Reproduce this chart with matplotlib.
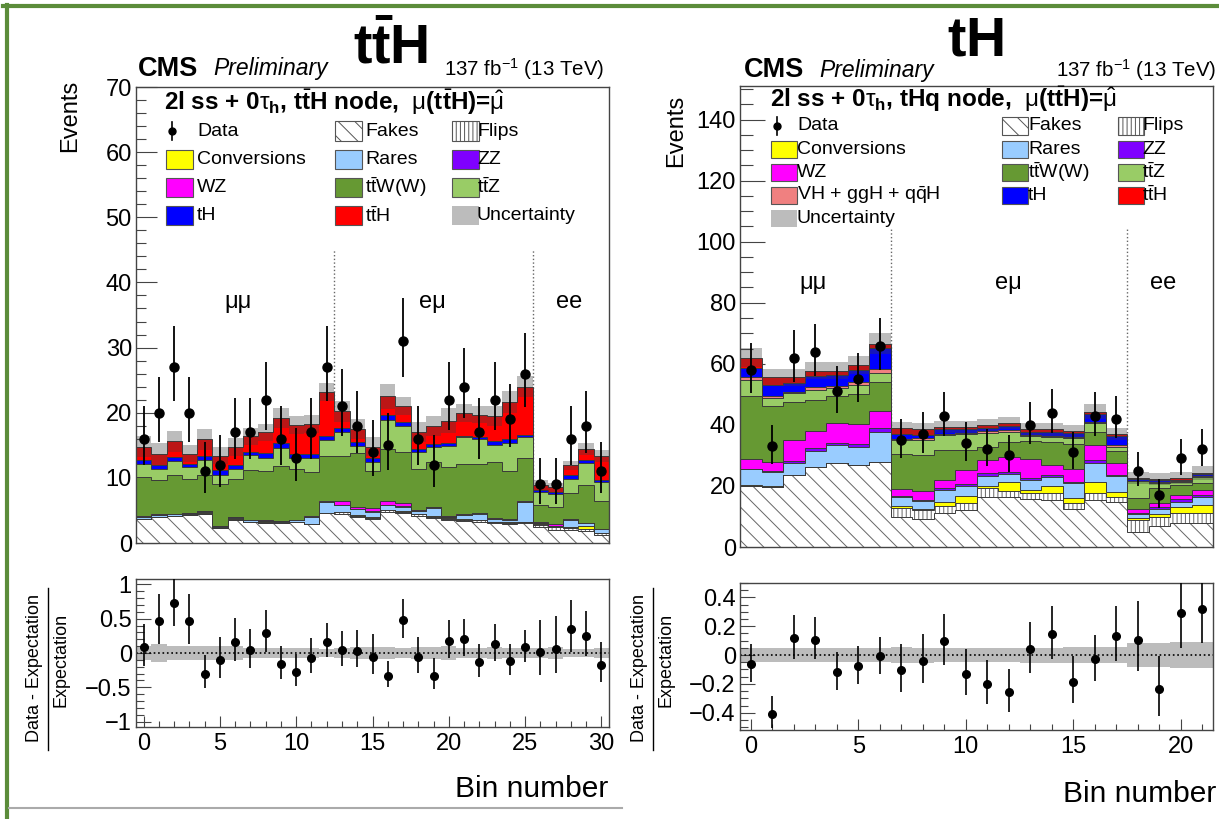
import numpy as np
import matplotlib
matplotlib.use('Agg')
import matplotlib.pyplot as plt
import matplotlib.ticker as ticker
from matplotlib.patches import Rectangle
from matplotlib.lines import Line2D

plt.rcParams['font.family'] = ['Liberation Sans', 'DejaVu Sans']
plt.rcParams['mathtext.fontset'] = 'custom'
plt.rcParams['mathtext.rm'] = 'Liberation Sans'
plt.rcParams['mathtext.it'] = 'Liberation Sans:italic'
plt.rcParams['mathtext.bf'] = 'Liberation Sans:bold'
plt.rcParams['hatch.linewidth'] = 0.7

W, H = 1219, 819

# ---------------- ttH node (left), bins 0-30 ----------------
data_L = [16, 20, 27, 20, 11, 12, 17, 17, 22, 16, 13, 17, 27,
          21, 18, 14, 15, 31, 16, 12, 22, 24, 17, 22, 19, 26,
          9, 9, 16, 18, 11]
fakes_L = [3.7, 4.0, 4.1, 4.3, 4.5, 2.3, 3.6, 3.2, 3.1, 3.0, 3.2, 2.9, 4.6,
           4.5, 4.0, 3.7, 4.8, 4.6, 4.2, 3.8, 3.5, 3.4, 3.3, 3.0, 2.9, 3.0,
           2.5, 2.0, 2.0, 1.8, 1.2]
flips_L = [0]*13 + [0.2]*13 + [0.3, 0.4, 0.3, 0.4, 0.3]
conv_L = [0.05]*13 + [0.1]*13 + [0.1, 0.05, 0.1, 0.4, 0.1]
rares_L = [0.25, 0.25, 0.25, 0.15, 0.25, 0.15, 0.25, 0.25, 0.25, 0.25, 0.25, 1.05, 1.65,
           1.0, 0.9, 0.8, 0.7, 0.7, 0.4, 1.3, 0.2, 0.6, 0.9, 0.4, 0.4, 3.0,
           0.1, 0.15, 1.2, 0.4, 0.5]
zz_L = [0.05]*31
wz_L = [0.05]*12 + [0.1] + [0.55, 0.35, 0.45, 0.55, 0.55, 0.05, 0.05, 0.05, 0.15, 0.05, 0.05, 0.05, 0.05] \
       + [0.25, 0.25, 0.05, 0.05, 0.05]
ttw_L = [6.0, 5.3, 5.9, 5.2, 5.5, 6.4, 5.8, 7.6, 7.5, 8.4, 7.7, 6.8, 6.95,
         7.0, 8.2, 5.7, 8.1, 7.7, 6.4, 7.0, 7.5, 7.7, 7.5, 8.6, 7.4, 6.7,
         2.6, 2.65, 4.0, 5.8, 4.3]
ttz_L = [2.0, 1.7, 2.2, 1.8, 2.3, 1.5, 1.5, 2.3, 2.1, 2.8, 1.7, 2.1, 2.4,
         3.6, 1.1, 1.4, 4.4, 4.1, 2.6, 2.3, 3.3, 4.0, 3.8, 2.7, 4.2, 3.1,
         2.0, 2.0, 2.2, 3.4, 2.8]
th_L = [0.6, 0.6, 0.6, 0.6, 0.7, 0.7, 0.6, 0.4, 0.7, 0.8, 0.7, 0.7, 0.6,
        0.6, 0.6, 0.6, 0.7, 0.5, 0.4, 0.4, 0.5, 0.3, 0.3, 0.5, 0.6, 0.4,
        0.3, 0.3, 0.5, 0.4, 0.3]
tth_L = [2.1, 1.7, 2.4, 1.5, 2.5, 2.2, 2.8, 2.5, 3.2, 3.8, 4.4, 4.6, 6.8,
         2.6, 2.0, 1.8, 2.9, 2.5, 2.6, 2.8, 3.4, 3.5, 3.5, 3.9, 5.7, 7.4,
         0.7, 0.7, 1.5, 1.7, 3.7]
unc_L = [1.6, 1.7, 1.6, 1.3, 1.6, 1.3, 1.4, 1.3, 1.3, 1.5, 1.4, 1.4, 1.4,
         1.6, 1.5, 1.4, 1.9, 1.4, 1.5, 1.5, 1.9, 1.4, 1.3, 1.6, 1.7, 1.6,
         0.7, 0.7, 0.7, 0.9, 0.9]

# ---------------- tHq node (right), bins 0-21 ----------------
data_R = [58, 33, 62, 64, 51, 55, 66, 35, 37, 43, 34, 32, 30, 40, 44, 31, 43, 42, 25, 17, 29, 32]
fakes_R = [20.1, 19.8, 23.6, 26.1, 27.4, 26.9, 27.8, 9.7, 9.2, 11.0, 12.2, 16.5, 16.3, 15.6, 15.4,
           12.3, 15.4, 14.9, 5.0, 6.9, 8.0, 8.0]
flips_R = [0]*7 + [3.0, 2.8, 2.4, 2.2, 2.7, 2.2, 2.2, 2.4, 2.0, 2.2, 1.6, 4.0, 2.8, 3.0, 3.0]
conv_R = [0.1]*7 + [0.7, 0.6, 1.5, 2.4, 0.9, 2.9, 0.9, 2.3, 1.7, 3.8, 1.6, 0.6, 1.1, 2.2, 2.8]
rares_R = [5.3, 4.8, 3.7, 5.1, 5.9, 5.9, 9.9, 3.1, 2.6, 3.8, 3.3, 3.2, 2.5, 3.3, 2.7, 4.9, 6.0, 5.0,
           1.3, 1.5, 1.7, 2.5]
zz_R = [0.2, 0.2, 0.8, 1.0, 0.8, 0.7, 1.1, 0.3, 0.3, 0.5, 0.5, 0.9, 0.7, 0.7, 0.8, 0.5, 1.1, 0.5,
        0.3, 0.7, 0.7, 0.7]
wz_R = [3.0, 3.1, 6.7, 5.7, 6.3, 6.7, 5.7, 2.2, 2.8, 2.8, 4.6, 4.3, 5.0, 6.0, 3.3, 4.1, 4.9, 3.8,
        1.1, 1.5, 1.4, 1.7]
ttw_R = [20.6, 18.2, 12.7, 10.2, 8.8, 9.8, 9.6, 11.5, 11.8, 9.8, 6.6, 4.4, 4.9, 6.1, 7.6, 8.4, 4.4,
         3.9, 3.7, 4.8, 3.3, 2.3]
ttz_R = [5.5, 2.5, 2.8, 3.3, 2.7, 3.0, 2.7, 4.5, 5.1, 4.9, 5.2, 4.6, 3.3, 1.5, 1.5, 1.7, 2.7, 1.6,
         5.5, 1.7, 1.0, 1.8]
vh_R = [0.8, 0.8, 0.5, 0.8, 0.8, 0.8, 1.5, 0.5, 0.4, 0.4, 0.4, 0.4, 0.4, 0.4, 0.4, 0.3, 0.5, 0.4,
        0.2, 0.3, 0.2, 0.3]
th_R = [3.0, 3.6, 2.8, 3.8, 3.6, 4.1, 6.7, 1.5, 1.0, 1.6, 1.1, 1.1, 1.3, 1.1, 1.3, 1.3, 2.5, 2.9,
        0.5, 0.5, 0.5, 0.7]
tth_R = [3.4, 2.5, 1.9, 1.7, 1.4, 1.7, 1.5, 2.0, 1.9, 0.6, 0.7, 1.0, 1.0, 0.7, 0.8, 0.8, 0.8, 0.8,
         0.4, 0.5, 0.5, 0.5]
unc_R = [3.1, 2.8, 2.8, 2.9, 2.9, 3.0, 3.4, 2.1, 2.0, 2.0, 2.0, 2.0, 2.0, 2.0, 2.0, 2.1, 2.4, 2.1,
         1.9, 1.9, 2.0, 2.2]

FACE = {'fakes': 'white', 'flips': 'white', 'conv': '#ffff00', 'rares': '#99ccff',
        'zz': '#7f00ff', 'wz': '#ff00ff', 'ttw': '#669933', 'ttz': '#99cc66',
        'vh': '#f08080', 'th': '#0000ff', 'tth': '#ff0000'}
HATCH = {'fakes': r'\\', 'flips': '||||'}
UNC_GREY = '#bcbcbc'


def fx(x):
    return x / W


def fy(y):
    return 1 - y / H


def poisson_err(n):
    n = np.asarray(n, float)
    up = n + np.sqrt(n + 0.75) + 1
    lo = n * (1 - 1 / (9 * n) - 1 / (3 * np.sqrt(n))) ** 3
    return n - lo, up - n


def style_axis(ax, ylen, xlen):
    for s in ax.spines.values():
        s.set_color('#444444')
        s.set_linewidth(1.0)
    ax.tick_params(which='both', direction='in', top=False, right=False,
                   color='#444444', width=0.8, labelsize=17)
    ax.tick_params(axis='y', which='major', length=ylen, pad=3)
    ax.tick_params(axis='y', which='minor', length=ylen * 0.5)
    ax.tick_params(axis='x', which='major', length=xlen, pad=4)
    ax.tick_params(axis='x', which='minor', length=xlen * 0.5)


def minus_fmt(v, pos):
    return ('%g' % v).replace('-', '\u2212')


def draw_panel(ax, rax, comps, data, unc):
    n = len(data)
    edges = np.arange(n + 1) - 0.5
    x = np.arange(n)
    bottom = np.zeros(n)
    for name, vals in comps:
        top = bottom + np.asarray(vals)
        ax.stairs(top, edges, baseline=bottom, fill=True, facecolor=FACE[name],
                  edgecolor='#666666' if name in HATCH else 'none',
                  hatch=HATCH.get(name), linewidth=0, zorder=2)
        ax.stairs(top, edges, baseline=None, color='#3a3a3a', linewidth=0.7, zorder=2.1)
        bottom = top
    total = bottom
    u = np.asarray(unc)
    ax.stairs(total + u, edges, baseline=total - u, fill=True, color=(0.25, 0.25, 0.25),
              alpha=0.35, linewidth=0, zorder=3)
    lo, hi = poisson_err(data)
    ax.errorbar(x, data, yerr=[lo, hi], fmt='o', color='k', ms=6.5, elinewidth=1.3,
                capsize=0, zorder=5)
    # ratio
    rel = u / total
    rax.stairs(rel, edges, baseline=-rel, fill=True, color=UNC_GREY, linewidth=0, zorder=1)
    rax.axhline(0, color='k', ls=':', lw=1.2, zorder=2)
    ratio = np.asarray(data) / total - 1
    rax.errorbar(x, ratio, yerr=[lo / total, hi / total], fmt='o', color='k', ms=5.5,
                 elinewidth=1.2, capsize=0, zorder=5)
    for a in (ax, rax):
        a.set_xlim(-0.5, n - 0.5)
        a.xaxis.set_major_locator(ticker.MultipleLocator(5))
        a.xaxis.set_minor_locator(ticker.MultipleLocator(1))
    ax.tick_params(labelbottom=False)
    rax.yaxis.set_major_formatter(ticker.FuncFormatter(minus_fmt))


def legend_entry(fig, kind, x, y, label, bw, bh, tx, fs=14):
    if kind == 'data':
        fig.add_artist(Line2D([fx(x + 6)] * 2, [fy(y - 9), fy(y + 9)], color='k', lw=1.2))
        fig.add_artist(Line2D([fx(x + 6)], [fy(y)], marker='o', ms=5, color='k'))
    elif kind == 'unc':
        fig.add_artist(Rectangle((fx(x), fy(y + bh / 2)), bw / W, bh / H,
                                 transform=fig.transFigure, facecolor=UNC_GREY, edgecolor='none'))
    else:
        fig.add_artist(Rectangle((fx(x), fy(y + bh / 2)), bw / W, bh / H,
                                 transform=fig.transFigure, facecolor=FACE[kind],
                                 edgecolor='#555555', hatch=HATCH.get(kind), lw=0.8))
    fig.text(fx(tx), fy(y), label, fontsize=fs, va='center', ha='left')


fig = plt.figure(figsize=(W / 100, H / 100), dpi=100)

# ---------------- left panel ----------------
axL = fig.add_axes([fx(136), fy(543), 473 / W, 456 / H])
raxL = fig.add_axes([fx(136), fy(727), 473 / W, 148 / H])
compsL = [('fakes', fakes_L), ('flips', flips_L), ('conv', conv_L), ('rares', rares_L),
          ('zz', zz_L), ('wz', wz_L), ('ttw', ttw_L), ('ttz', ttz_L), ('th', th_L), ('tth', tth_L)]
draw_panel(axL, raxL, compsL, data_L, unc_L)
axL.set_ylim(0, 70)
axL.yaxis.set_major_locator(ticker.MultipleLocator(10))
axL.yaxis.set_minor_locator(ticker.MultipleLocator(2))
raxL.set_ylim(-1.08, 1.08)
raxL.yaxis.set_major_locator(ticker.MultipleLocator(0.5))
raxL.yaxis.set_minor_locator(ticker.MultipleLocator(0.1))
style_axis(axL, 15, 10)
style_axis(raxL, 11, 8)
axL.vlines([12.5, 25.5], 0, 45, colors='#666666', linestyles=':', lw=1, zorder=1)
for xr, lab in [(6.2, '\u03bc\u03bc'), (18.9, 'e\u03bc'), (27.9, 'ee')]:
    axL.text(xr, 37, lab, fontsize=17, ha='center', va='center')

# ---------------- right panel ----------------
axR = fig.add_axes([fx(740), fy(547), 473 / W, 461 / H])
raxR = fig.add_axes([fx(740), fy(730), 473 / W, 147 / H])
compsR = [('fakes', fakes_R), ('flips', flips_R), ('conv', conv_R), ('rares', rares_R),
          ('zz', zz_R), ('wz', wz_R), ('ttw', ttw_R), ('ttz', ttz_R), ('vh', vh_R),
          ('th', th_R), ('tth', tth_R)]
draw_panel(axR, raxR, compsR, data_R, unc_R)
axR.set_ylim(0, 151)
axR.yaxis.set_major_locator(ticker.MultipleLocator(20))
axR.yaxis.set_minor_locator(ticker.MultipleLocator(5))
raxR.set_ylim(-0.52, 0.50)
raxR.yaxis.set_major_locator(ticker.MultipleLocator(0.2))
raxR.yaxis.set_minor_locator(ticker.MultipleLocator(0.05))
style_axis(axR, 18, 10)
style_axis(raxR, 11, 8)
axR.vlines([6.5, 17.5], 0, 104, colors='#666666', linestyles=':', lw=1, zorder=1)
for xr, lab in [(2.9, '\u03bc\u03bc'), (12.0, 'e\u03bc'), (19.2, 'ee')]:
    axR.text(xr, 86.5, lab, fontsize=17, ha='center', va='center')

# ---------------- texts ----------------
fig.text(fx(391), fy(63), r'$\mathbf{t\bar{t}H}$', fontsize=40, ha='center', va='baseline')
fig.text(fx(975), fy(55), r'$\mathbf{tH}$', fontsize=40, ha='center', va='baseline')

for xc, xp, xl, yc in [(138, 213, 604, 69), (744, 819, 1216, 70)]:
    fig.text(fx(xc), fy(yc), 'CMS', fontsize=19.5, fontweight='bold', va='center')
    fig.text(fx(xp), fy(yc), 'Preliminary', fontsize=16.5, style='italic', va='center')
    fig.text(fx(xl), fy(yc), r'137 fb$^{-1}$ (13 TeV)', fontsize=14.8, ha='right', va='center')

fig.text(fx(70), fy(80), 'Events', rotation=90, fontsize=17, ha='center', va='top')
fig.text(fx(676), fy(95), 'Events', rotation=90, fontsize=17, ha='center', va='top')
fig.text(fx(608), fy(789), 'Bin number', fontsize=21.5, ha='right', va='center')
fig.text(fx(1216), fy(794), 'Bin number', fontsize=21.5, ha='right', va='center')

for xn, xb, xd in [(35, 48, 61), (640, 653, 666)]:
    fig.text(fx(xn), fy(668), 'Data - Expectation', rotation=90, fontsize=13,
             ha='center', va='center')
    fig.text(fx(xd), fy(660), 'Expectation', rotation=90, fontsize=13, ha='center', va='center')
    fig.add_artist(Line2D([fx(xb)] * 2, [fy(588), fy(750)], color='k', lw=1))

hdr_L = (r'2l ss + 0$\mathrm{\tau}_{\mathbf{h}}$, t$\bar{\mathbf{t}}$H node,  '
         r'$\mathrm{\mu}$(t$\bar{\mathbf{t}}$H)=$\hat{\mathrm{\mu}}$')
hdr_R = (r'2l ss + 0$\mathrm{\tau}_{\mathbf{h}}$, tHq node,  '
         r'$\mathrm{\mu}$(t$\bar{\mathbf{t}}$H)=$\hat{\mathrm{\mu}}$')
fig.text(fx(164), fy(102), hdr_L, fontsize=17.5, fontweight='bold', va='center')
fig.text(fx(770), fy(99), hdr_R, fontsize=17.5, fontweight='bold', va='center')

ttW = r't$\bar{\mathrm{t}}$W(W)'
ttZ = r't$\bar{\mathrm{t}}$Z'
ttH = r't$\bar{\mathrm{t}}$H'
vhl = r'VH + ggH + q$\bar{\mathrm{q}}$H'

leg_L = [('data', 0, 0, 'Data'), ('fakes', 1, 0, 'Fakes'), ('flips', 2, 0, 'Flips'),
         ('conv', 0, 1, 'Conversions'), ('rares', 1, 1, 'Rares'), ('zz', 2, 1, 'ZZ'),
         ('wz', 0, 2, 'WZ'), ('ttw', 1, 2, ttW), ('ttz', 2, 2, ttZ),
         ('th', 0, 3, 'tH'), ('tth', 1, 3, ttH), ('unc', 2, 3, 'Uncertainty')]
colsL = [(166, 197), (335, 365), (452, 477)]
for kind, c, r, lab in leg_L:
    bx, tx = colsL[c]
    legend_entry(fig, kind, bx, 131 + 28.3 * r, lab, 27, 19, tx)

leg_R = [('data', 0, 0, 'Data'), ('fakes', 1, 0, 'Fakes'), ('flips', 2, 0, 'Flips'),
         ('conv', 0, 1, 'Conversions'), ('rares', 1, 1, 'Rares'), ('zz', 2, 1, 'ZZ'),
         ('wz', 0, 2, 'WZ'), ('ttw', 1, 2, ttW), ('ttz', 2, 2, ttZ),
         ('vh', 0, 3, vhl), ('th', 1, 3, 'tH'), ('tth', 2, 3, ttH),
         ('unc', 0, 4, 'Uncertainty')]
colsR = [(771, 797), (1002, 1028), (1118, 1142)]
for kind, c, r, lab in leg_R:
    bx, tx = colsR[c]
    legend_entry(fig, kind, bx, 126 + 23.2 * r, lab, 26, 17, tx)

# slide frame
fig.add_artist(Line2D([fx(3), fx(1219)], [fy(6), fy(6)], color='#5b8c3a', lw=3))
fig.add_artist(Line2D([fx(7), fx(7)], [fy(5), fy(817)], color='#5b8c3a', lw=3))
fig.add_artist(Line2D([fx(9), fx(622)], [fy(808), fy(808)], color='#aaaaaa', lw=1.5))

fig.savefig('out.png', dpi=100)
